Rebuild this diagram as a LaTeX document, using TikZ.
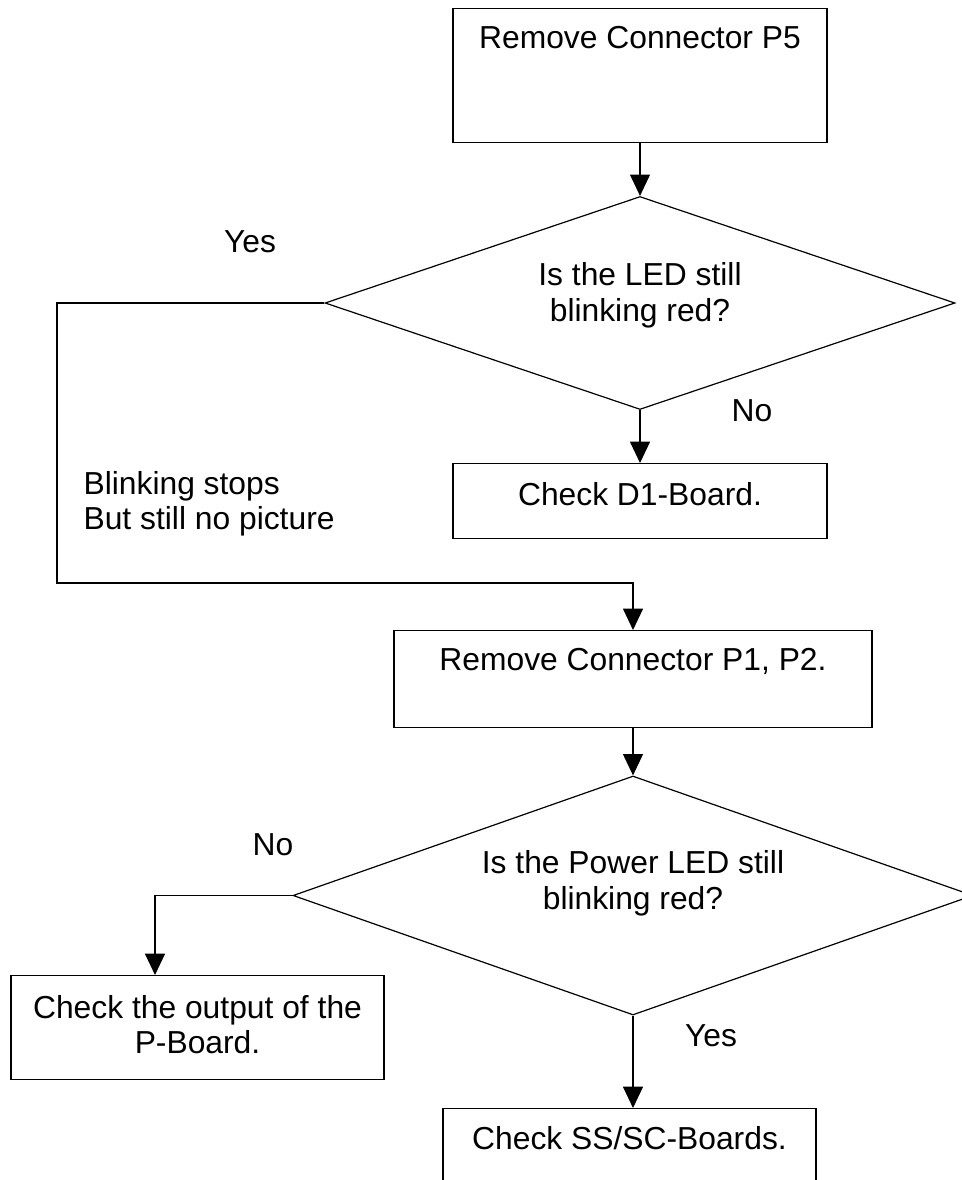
\documentclass[tikz,border=0pt]{standalone}
\usepackage{fontspec}
\setmainfont{Liberation Sans}
\usetikzlibrary{arrows.meta,shapes.geometric}

\begin{document}
\begin{tikzpicture}[x=0.75pt,y=-0.75pt,font=\fontsize{23.85pt}{26.6pt}\selectfont,line width=0.9pt,
  box/.style={draw,inner sep=0pt,anchor=north,align=center},
  dec/.style={draw,diamond,aspect=3,inner sep=0pt,align=center,text height=50pt},
  lbl/.style={inner sep=0pt},
  arr/.style={-{Triangle[length=16pt,width=15pt]}}]
\useasboundingbox (0,0) rectangle (961,1180);
% steps and questions
\node[box,minimum width=280.5pt,text height=30pt,text depth=70.5pt] (rm5) at (640,8) {Remove Connector P5};
\node[dec,minimum width=472.5pt,minimum height=159.75pt,text depth=22.4pt] (led) at (640,303) {Is the LED still\\blinking red?};
\node[box,minimum width=280.5pt,text height=31.1pt,text depth=25.1pt] (d1) at (640,463) {Check D1-Board.};
\node[box,minimum width=358.5pt,text height=29.6pt,text depth=43.1pt] (rm12) at (633,630) {Remove Connector P1, P2.};
\node[dec,minimum width=510pt,minimum height=179.25pt,text depth=29.15pt] (pwr) at (633,895.5) {Is the Power LED still\\blinking red?};
\node[box,minimum width=279.75pt,text height=58.5pt,text depth=19.5pt] (pout) at (197.5,975) {Check the output of the\\P-Board.};
\node[box,minimum width=279.75pt,text height=30.4pt,text depth=27.4pt] (ss) at (629.5,1108) {Check SS/SC-Boards.};
% answers
\node[lbl] (yes1) at (250,242) {Yes};
\node[lbl] (no1) at (752,411) {No};
\node[lbl,anchor=west,align=left] (stops) at (83,504) {Blinking stops\\But still no picture};
\node[lbl] (no2) at (273,845) {No};
\node[lbl] (yes2) at (711,1036) {Yes};
\coordinate (yesbend) at (57,583);
\coordinate (nobend) at (155,895.5);
\draw[arr] (rm5) -- (led);
\draw[arr] (led) -- (d1);
\draw[arr] (led.west) -| (yesbend) -| (rm12.north);
\draw[arr] (rm12) -- (pwr);
\draw[arr] (pwr.west) -- (nobend) -- (nobend |- pout.north);
\draw[arr] (pwr.south) -- (pwr.south |- ss.north);
\end{tikzpicture}
\end{document}
